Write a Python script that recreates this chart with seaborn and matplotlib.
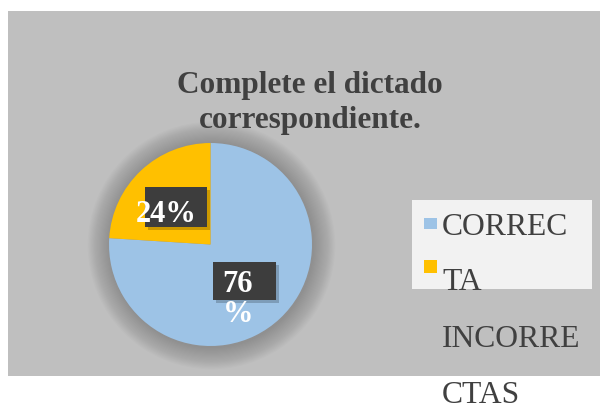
import matplotlib
matplotlib.use("Agg")
import matplotlib.pyplot as plt
import matplotlib.patches as patches
import seaborn as sns

# data
categories = ['CORRECTA', 'INCORRECTAS']
values = [76, 24]
pct_labels = ['76\n%', '24%']
colors = ['#9DC3E6', '#FFC000']
title_lines = ['Complete el dictado', 'correspondiente.']
legend_lines = ['CORREC', 'TA', 'INCORRE', 'CTAS']

sns.set_style("white")
plt.rcParams['font.family'] = ['Liberation Serif', 'DejaVu Serif']

W, H = 600, 407
fig = plt.figure(figsize=(W / 100, H / 100), dpi=100)
fig.patch.set_facecolor('white')


def fx(px):
    return px / W


def fy(py):
    return 1 - py / H


# grey chart area
fig.patches.append(patches.Rectangle((fx(8), fy(376)), fx(592), 365 / H,
                                     transform=fig.transFigure, facecolor='#BFBFBF',
                                     edgecolor='none', zorder=-2))

# pie axes: centre (210.5, 244.5) px, radius 101.5 px
cx, cy, r = 210.5, 244.5, 101.5
ax = fig.add_axes([fx(cx - r), fy(cy + r), 2 * r / W, 2 * r / H])
ax.set_facecolor('none')

# soft shadow around pie
for i in range(20):
    ax.add_patch(patches.Circle((0.01, -0.01), 1.0 + 0.011 * (i + 1), facecolor='black',
                                alpha=0.012, edgecolor='none', clip_on=False, zorder=0))

ax.pie(values, colors=colors, startangle=90, counterclock=False,
       wedgeprops=dict(linewidth=0, zorder=2))
ax.set_xlim(-1, 1)
ax.set_ylim(-1, 1)
ax.axis('off')


def d(px, py):
    return (px - cx) / r, (cy - py) / r


# label boxes
for (x0, y0, x1, y1) in [(145, 187, 207, 227), (213, 262, 276, 300)]:
    bx, by = d(x0, y1)
    ax.add_patch(patches.Rectangle((bx + 0.03, by - 0.03), (x1 - x0) / r, (y1 - y0) / r,
                                   facecolor='black', alpha=0.2, edgecolor='none',
                                   clip_on=False, zorder=3))
    ax.add_patch(patches.Rectangle((bx, by), (x1 - x0) / r, (y1 - y0) / r,
                                   facecolor='#3D3D3D', edgecolor='none',
                                   clip_on=False, zorder=4))

tx, ty = d(166, 222)
ax.text(tx, ty, pct_labels[1], color='white', fontsize=22, fontweight='bold',
        ha='center', va='baseline', zorder=5)
tx, ty = d(238, 292)
ax.text(tx, ty, pct_labels[0].split('\n')[0], color='white', fontsize=22,
        fontweight='bold', ha='center', va='baseline', zorder=5)
tx, ty = d(238, 322)
ax.text(tx, ty, pct_labels[0].split('\n')[1], color='white', fontsize=22,
        fontweight='bold', ha='center', va='baseline', zorder=5)

# title
for line, base in zip(title_lines, [93, 128]):
    fig.text(fx(310), fy(base), line, ha='center', va='baseline', fontsize=22.5,
             fontweight='bold', color='#404040')

# legend
fig.patches.append(patches.Rectangle((fx(412), fy(289)), fx(180), 89 / H,
                                     transform=fig.transFigure, facecolor='#F2F2F2',
                                     edgecolor='none', zorder=1))
fig.patches.append(patches.Rectangle((fx(424), fy(229)), fx(13), 11 / H,
                                     transform=fig.transFigure, facecolor=colors[0],
                                     edgecolor='none', zorder=2))
fig.patches.append(patches.Rectangle((fx(424), fy(273)), fx(13), 13 / H,
                                     transform=fig.transFigure, facecolor=colors[1],
                                     edgecolor='none', zorder=2))
for line, base in zip(legend_lines, [235, 290, 347, 403]):
    fig.text(fx(442), fy(base), line, ha='left', va='baseline', fontsize=22.8,
             color='#404040')

fig.savefig('out.png', dpi=100, facecolor='white')
